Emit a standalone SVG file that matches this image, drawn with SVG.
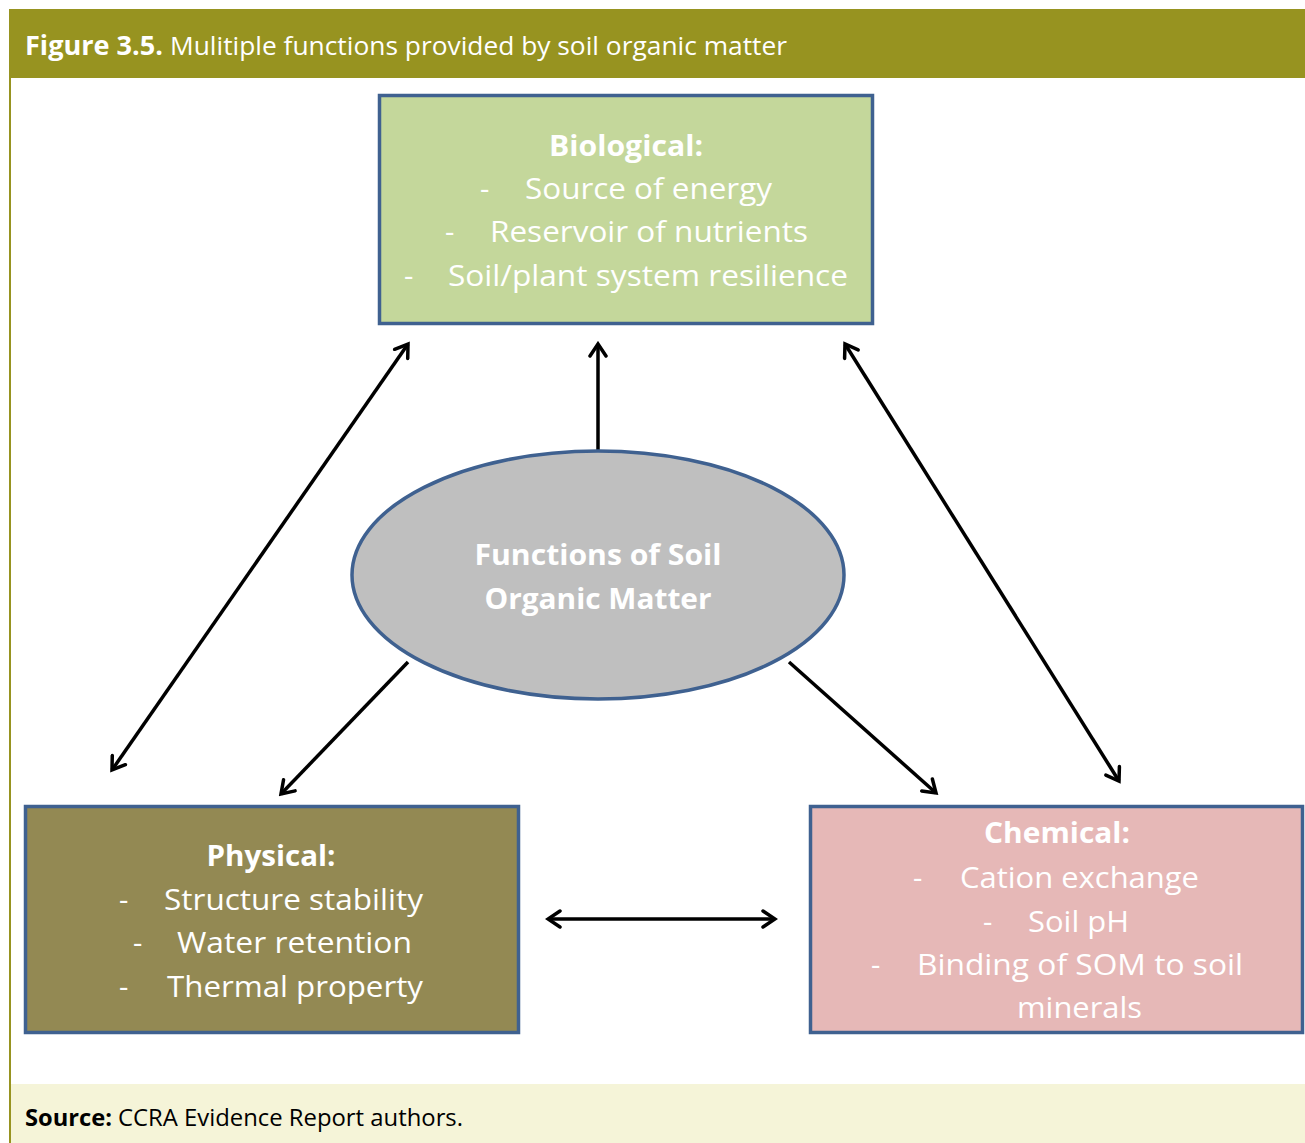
<svg xmlns="http://www.w3.org/2000/svg" width="1305" height="1143" viewBox="0 0 1305 1143">
<style>
.hdr{font-family:"Open Sans","Liberation Sans",sans-serif;font-size:26px;fill:#ffffff}
.src{font-family:"Open Sans","Liberation Sans",sans-serif;font-size:23px;fill:#000000}
.b{font-weight:bold}
.box{stroke:#3F6190;stroke-width:3.5}
.t{font-family:"Open Sans","Liberation Sans",sans-serif;font-size:29px;fill:#ffffff}
.ttl{font-family:"Open Sans","Liberation Sans",sans-serif;font-size:29px;font-weight:bold;fill:#ffffff;text-anchor:middle}
.arr{stroke:#000000;stroke-width:3.5;fill:none}
</style>
<defs>
<marker id="ah" viewBox="0 0 20 20" refX="17" refY="10" markerWidth="20" markerHeight="20" markerUnits="userSpaceOnUse" orient="auto-start-reverse">
<path d="M5,2 L17,10 L5,18" fill="none" stroke="#000000" stroke-width="3.5" stroke-linecap="round" stroke-linejoin="miter"/>
</marker>
</defs>
<rect x="0" y="0" width="1305" height="1143" fill="#ffffff"/>
<g id="frame">
<rect x="9" y="9" width="1296" height="69" fill="#979320"/>
<rect x="9" y="78" width="2" height="1065" fill="#979320"/>
<rect x="11" y="1084" width="1294" height="59" fill="#F5F4D8"/>
<text class="hdr" y="55"><tspan x="25" class="b" textLength="138" lengthAdjust="spacingAndGlyphs">Figure 3.5.</tspan><tspan x="170" textLength="617" lengthAdjust="spacingAndGlyphs">Mulitiple functions provided by soil organic matter</tspan></text>
<text class="src" y="1126"><tspan x="25" class="b" textLength="87" lengthAdjust="spacingAndGlyphs">Source:</tspan><tspan x="118" textLength="345" lengthAdjust="spacingAndGlyphs">CCRA Evidence Report authors.</tspan></text>
</g>
<g id="connectors">
<line class="arr" x1="408" y1="344" x2="112" y2="770" marker-start="url(#ah)" marker-end="url(#ah)"/>
<line class="arr" x1="598" y1="450" x2="598" y2="344" marker-end="url(#ah)"/>
<line class="arr" x1="845" y1="344" x2="1119" y2="781" marker-start="url(#ah)" marker-end="url(#ah)"/>
<line class="arr" x1="408" y1="662" x2="281" y2="794" marker-end="url(#ah)"/>
<line class="arr" x1="789" y1="662" x2="936" y2="793" marker-end="url(#ah)"/>
<line class="arr" x1="548" y1="919" x2="775" y2="919" marker-start="url(#ah)" marker-end="url(#ah)"/>
</g>
<g id="biological">
<rect class="box" x="379.5" y="95.5" width="493" height="228" fill="#C4D79B"/>
<text class="ttl" x="626" y="156" textLength="154" lengthAdjust="spacingAndGlyphs">Biological:</text>
<text class="t" y="199"><tspan x="480">-</tspan><tspan x="525" textLength="247" lengthAdjust="spacingAndGlyphs">Source of energy</tspan></text>
<text class="t" y="242"><tspan x="445">-</tspan><tspan x="490" textLength="318" lengthAdjust="spacingAndGlyphs">Reservoir of nutrients</tspan></text>
<text class="t" y="286"><tspan x="404">-</tspan><tspan x="448" textLength="400" lengthAdjust="spacingAndGlyphs">Soil/plant system resilience</tspan></text>
</g>
<g id="som">
<ellipse cx="598" cy="575" rx="246" ry="124" fill="#BFBFBF" stroke="#3F6190" stroke-width="3.5"/>
<text class="ttl" x="598" y="565" textLength="247" lengthAdjust="spacingAndGlyphs">Functions of Soil</text>
<text class="ttl" x="598" y="609" textLength="227" lengthAdjust="spacingAndGlyphs">Organic Matter</text>
</g>
<g id="physical">
<rect class="box" x="25.5" y="806.5" width="493" height="226" fill="#938953"/>
<text class="ttl" x="271" y="866" textLength="129" lengthAdjust="spacingAndGlyphs">Physical:</text>
<text class="t" y="910"><tspan x="119">-</tspan><tspan x="164" textLength="259" lengthAdjust="spacingAndGlyphs">Structure stability</tspan></text>
<text class="t" y="953"><tspan x="133">-</tspan><tspan x="177" textLength="235" lengthAdjust="spacingAndGlyphs">Water retention</tspan></text>
<text class="t" y="997"><tspan x="119">-</tspan><tspan x="167" textLength="256" lengthAdjust="spacingAndGlyphs">Thermal property</tspan></text>
</g>
<g id="chemical">
<rect class="box" x="810.5" y="806.5" width="492" height="226" fill="#E6B8B7"/>
<text class="ttl" x="1057" y="843" textLength="146" lengthAdjust="spacingAndGlyphs">Chemical:</text>
<text class="t" y="888"><tspan x="913">-</tspan><tspan x="960" textLength="239" lengthAdjust="spacingAndGlyphs">Cation exchange</tspan></text>
<text class="t" y="932"><tspan x="983">-</tspan><tspan x="1028" textLength="101" lengthAdjust="spacingAndGlyphs">Soil pH</tspan></text>
<text class="t" y="975"><tspan x="871">-</tspan><tspan x="917" textLength="326" lengthAdjust="spacingAndGlyphs">Binding of SOM to soil</tspan></text>
<text class="t" y="1018"><tspan x="1017" textLength="125" lengthAdjust="spacingAndGlyphs">minerals</tspan></text>
</g>
</svg>
